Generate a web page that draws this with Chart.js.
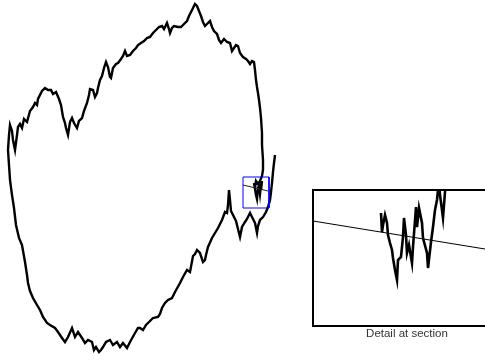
<!DOCTYPE html>
<html>
<head>
<meta charset="utf-8">
<script src="https://cdn.jsdelivr.net/npm/chart.js@4"></script>
<style>
  html, body { margin: 0; padding: 0; background: #fff; overflow: hidden; }
  #main { position: absolute; left: 0; top: 0; }
  #insetBox { position: absolute; left: 312px; top: 189px; width: 192px; height: 134px; border: 2px solid #000; }
  #insetLabel { position: absolute; left: 307px; top: 327px; width: 200px; text-align: center;
    font-family: "Liberation Sans", Arial, sans-serif; font-size: 11.5px; color: #333; }
</style>
</head>
<body>
<canvas id="main" width="485" height="360"></canvas>
<div id="insetBox"><canvas id="inset" width="192" height="134"></canvas></div>
<div id="insetLabel">Detail at section</div>
<script>
// traced path of the walk (x to the right, y downwards)
const pathX = [275,274,273,272,271,270,268,266,263,260,258,257,255,252,250,247,245,242,240,238,236,234,231,230,229,228,227,225,222,218,215,212,208,206,205,203,200,197,195,193,190,187,183,180,175,172,168,165,162,160,158,153,148,146,143,140,138,135,130,127,123,120,117,113,110,106,103,101,99,96,94,92,88,85,82,78,75,72,68,65,62,58,55,50,47,43,40,37,33,30,28,27,25,22,19,16,14,12,10,9,8,9,10,12,13,15,17,18,20,22,24,27,30,33,35,37,38,42,45,48,51,53,56,59,61,63,65,66,68,70,72,74,77,79,82,84,87,89,90,93,95,97,98,100,102,104,106,108,110,111,113,116,118,121,123,125,127,130,133,136,138,141,144,147,150,153,156,159,162,164,166,167,169,170,172,174,178,181,184,187,189,191,193,195,197,199,201,203,205,207,210,212,214,217,219,221,224,227,230,232,234,236,238,240,243,246,248,250,252,254,255,256,257,258,259,260,261,262,262,263,263,262,260,258,256,255,254,256,257,258,259,260,261,262,261];
const pathY = [155,163,172,183,192,200,207,212,217,220,226,233,223,217,213,219,222,227,237,229,221,217,211,200,190,205,213,212,220,228,233,238,247,255,260,262,253,250,254,256,272,270,277,283,292,298,300,303,308,314,317,318,323,325,330,328,328,333,342,348,343,347,342,345,340,342,347,350,352,347,350,342,340,343,338,332,337,328,337,342,338,332,328,325,323,317,310,305,298,291,283,275,262,245,238,225,208,195,180,165,150,135,125,131,140,150,135,127,124,128,119,122,111,107,103,105,99,91,88,90,90,94,92,99,105,117,123,128,135,122,118,123,128,121,118,111,103,95,89,90,97,93,88,80,76,68,62,67,77,78,68,64,63,59,56,51,56,55,51,48,45,43,41,38,37,33,30,27,26,29,25,23,29,33,28,26,27,27,24,21,16,12,8,4,6,11,16,22,26,24,21,27,31,34,40,43,39,42,43,51,48,45,46,53,57,59,61,64,61,62,70,80,87,93,100,108,118,133,145,160,170,176,181,184,181,188,183,195,199,188,186,194,185,181,190];

// blue box marking the section, and the section line through it
const boxX = [243, 269, 269, 243, 243];
const boxY = [177, 177, 208, 208, 177];
const sectionX = [243, 268];
const sectionY = [185, 191];

// detail view (inset) values
const detailX = [381,382,383,385,387,388,390,392,393,395,397,398,401,403,404,406,407,409,412,413,416,417,419,422,423,427,428,431,433,435,437,438,439,440,442,443,444,445,446];
const detailY = [213,232,225,215,223,235,243,250,258,270,280,260,257,237,218,235,253,245,263,247,207,227,208,223,238,253,268,242,227,210,200,190,184,195,210,218,205,192,184];
const detailSectionX = [313, 485];
const detailSectionY = [221, 249];

function toPoints(xs, ys) {
    return xs.map((x, i) => ({ x: x, y: ys[i] }));
}

const hiddenAxis = { type: 'linear', display: false };

new Chart(document.getElementById('main'), {
    type: 'scatter',
    data: {
        datasets: [
            { data: toPoints(sectionX, sectionY), showLine: true, borderColor: '#222', borderWidth: 1, pointRadius: 0 },
            { data: toPoints(boxX, boxY), showLine: true, borderColor: '#0000ff', borderWidth: 1, pointRadius: 0 },
            { data: toPoints(pathX, pathY), showLine: true, borderColor: '#000', borderWidth: 2.4, pointRadius: 0 }
        ]
    },
    options: {
        responsive: false,
        animation: false,
        layout: { padding: 0 },
        scales: {
            x: Object.assign({}, hiddenAxis, { min: 0, max: 485 }),
            y: Object.assign({}, hiddenAxis, { min: 0, max: 360, reverse: true })
        },
        plugins: { legend: { display: false }, tooltip: { enabled: false } }
    }
});

new Chart(document.getElementById('inset'), {
    type: 'scatter',
    data: {
        datasets: [
            { data: toPoints(detailSectionX, detailSectionY), showLine: true, borderColor: '#000', borderWidth: 1, pointRadius: 0 },
            { data: toPoints(detailX, detailY), showLine: true, borderColor: '#000', borderWidth: 2.6, pointRadius: 0 }
        ]
    },
    options: {
        responsive: false,
        animation: false,
        layout: { padding: 0 },
        scales: {
            x: Object.assign({}, hiddenAxis, { min: 314, max: 506 }),
            y: Object.assign({}, hiddenAxis, { min: 191, max: 325, reverse: true })
        },
        plugins: { legend: { display: false }, tooltip: { enabled: false } }
    }
});
</script>
</body>
</html>
